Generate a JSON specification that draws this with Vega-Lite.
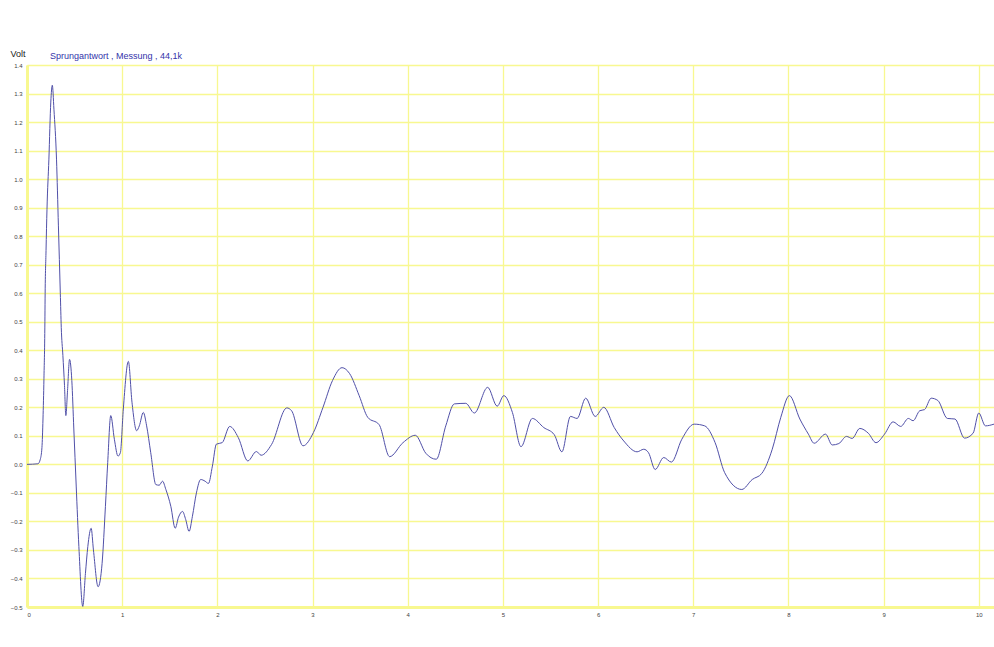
{
  "$schema": "https://vega.github.io/schema/vega-lite/v6.json",
  "autosize": "none",
  "width": 967,
  "height": 542,
  "padding": {"left": 27, "top": 65, "right": 0, "bottom": 40},
  "background": "white",
  "title": {"text": "Sprungantwort , Messung , 44,1k", "anchor": "start", "dx": 40, "offset": -12, "fontSize": 9, "fontWeight": "normal", "font": "Liberation Sans", "color": "#3333aa"},
  "config": {"view": {"stroke": null}},
  "data": {"values": [
    {"t": 0, "v": 0}, {"t": 0.115, "v": 0.002}, {"t": 0.14, "v": 0.018}, {"t": 0.157, "v": 0.059},
    {"t": 0.168, "v": 0.159}, {"t": 0.178, "v": 0.3}, {"t": 0.188, "v": 0.5}, {"t": 0.19, "v": 0.58},
    {"t": 0.2, "v": 0.75}, {"t": 0.21, "v": 0.894}, {"t": 0.23, "v": 1.07}, {"t": 0.25, "v": 1.27},
    {"t": 0.266, "v": 1.329}, {"t": 0.283, "v": 1.245}, {"t": 0.31, "v": 1.07}, {"t": 0.33, "v": 0.836},
    {"t": 0.35, "v": 0.6}, {"t": 0.36, "v": 0.48}, {"t": 0.377, "v": 0.382}, {"t": 0.394, "v": 0.276},
    {"t": 0.408, "v": 0.171}, {"t": 0.426, "v": 0.259}, {"t": 0.447, "v": 0.368}, {"t": 0.471, "v": 0.294},
    {"t": 0.492, "v": 0.124}, {"t": 0.517, "v": -0.076}, {"t": 0.545, "v": -0.288}, {"t": 0.586, "v": -0.498},
    {"t": 0.614, "v": -0.382}, {"t": 0.639, "v": -0.288}, {"t": 0.674, "v": -0.224}, {"t": 0.698, "v": -0.3},
    {"t": 0.747, "v": -0.429}, {"t": 0.789, "v": -0.347}, {"t": 0.824, "v": -0.147}, {"t": 0.848, "v": 0.006},
    {"t": 0.88, "v": 0.171}, {"t": 0.918, "v": 0.088}, {"t": 0.956, "v": 0.029}, {"t": 0.981, "v": 0.041},
    {"t": 1.012, "v": 0.194}, {"t": 1.065, "v": 0.361}, {"t": 1.103, "v": 0.218}, {"t": 1.152, "v": 0.118},
    {"t": 1.18, "v": 0.135}, {"t": 1.222, "v": 0.182}, {"t": 1.257, "v": 0.135}, {"t": 1.3, "v": 0.041},
    {"t": 1.354, "v": -0.071}, {"t": 1.389, "v": -0.073}, {"t": 1.424, "v": -0.059}, {"t": 1.459, "v": -0.088},
    {"t": 1.511, "v": -0.147}, {"t": 1.557, "v": -0.224}, {"t": 1.592, "v": -0.185}, {"t": 1.634, "v": -0.165},
    {"t": 1.668, "v": -0.194}, {"t": 1.703, "v": -0.235}, {"t": 1.738, "v": -0.182}, {"t": 1.78, "v": -0.1},
    {"t": 1.825, "v": -0.053}, {"t": 1.871, "v": -0.059}, {"t": 1.906, "v": -0.067}, {"t": 1.948, "v": -0.006},
    {"t": 1.99, "v": 0.071}, {"t": 2.05, "v": 0.076}, {"t": 2.13, "v": 0.133}, {"t": 2.22, "v": 0.094},
    {"t": 2.32, "v": 0.012}, {"t": 2.41, "v": 0.045}, {"t": 2.46, "v": 0.032}, {"t": 2.57, "v": 0.07},
    {"t": 2.73, "v": 0.198}, {"t": 2.78, "v": 0.188}, {"t": 2.9, "v": 0.065}, {"t": 3.01, "v": 0.112},
    {"t": 3.11, "v": 0.2}, {"t": 3.21, "v": 0.294}, {"t": 3.31, "v": 0.339}, {"t": 3.39, "v": 0.318},
    {"t": 3.49, "v": 0.241}, {"t": 3.58, "v": 0.165}, {"t": 3.7, "v": 0.139}, {"t": 3.81, "v": 0.027},
    {"t": 3.95, "v": 0.076}, {"t": 4.08, "v": 0.102}, {"t": 4.19, "v": 0.039}, {"t": 4.3, "v": 0.018},
    {"t": 4.4, "v": 0.135}, {"t": 4.49, "v": 0.212}, {"t": 4.61, "v": 0.214}, {"t": 4.7, "v": 0.18},
    {"t": 4.84, "v": 0.27}, {"t": 4.94, "v": 0.204}, {"t": 5.01, "v": 0.241}, {"t": 5.1, "v": 0.182},
    {"t": 5.19, "v": 0.062}, {"t": 5.31, "v": 0.161}, {"t": 5.43, "v": 0.129}, {"t": 5.54, "v": 0.104},
    {"t": 5.62, "v": 0.044}, {"t": 5.71, "v": 0.168}, {"t": 5.78, "v": 0.161}, {"t": 5.87, "v": 0.232},
    {"t": 5.97, "v": 0.168}, {"t": 6.06, "v": 0.2}, {"t": 6.17, "v": 0.129}, {"t": 6.27, "v": 0.082},
    {"t": 6.41, "v": 0.044}, {"t": 6.48, "v": 0.053}, {"t": 6.53, "v": 0.041}, {"t": 6.6, "v": -0.018},
    {"t": 6.69, "v": 0.024}, {"t": 6.77, "v": 0.008}, {"t": 6.88, "v": 0.088}, {"t": 7.01, "v": 0.141},
    {"t": 7.12, "v": 0.135}, {"t": 7.23, "v": 0.076}, {"t": 7.33, "v": -0.029}, {"t": 7.51, "v": -0.088},
    {"t": 7.62, "v": -0.053}, {"t": 7.72, "v": -0.032}, {"t": 7.83, "v": 0.053}, {"t": 7.92, "v": 0.165},
    {"t": 8.01, "v": 0.241}, {"t": 8.12, "v": 0.159}, {"t": 8.21, "v": 0.106}, {"t": 8.27, "v": 0.074},
    {"t": 8.39, "v": 0.106}, {"t": 8.46, "v": 0.068}, {"t": 8.53, "v": 0.073}, {"t": 8.61, "v": 0.098},
    {"t": 8.67, "v": 0.091}, {"t": 8.75, "v": 0.126}, {"t": 8.84, "v": 0.109}, {"t": 8.92, "v": 0.076},
    {"t": 9.01, "v": 0.106}, {"t": 9.1, "v": 0.149}, {"t": 9.18, "v": 0.133}, {"t": 9.26, "v": 0.161},
    {"t": 9.31, "v": 0.153}, {"t": 9.38, "v": 0.188}, {"t": 9.43, "v": 0.192}, {"t": 9.5, "v": 0.232},
    {"t": 9.57, "v": 0.224}, {"t": 9.67, "v": 0.161}, {"t": 9.75, "v": 0.159}, {"t": 9.85, "v": 0.092},
    {"t": 9.94, "v": 0.109}, {"t": 10.0, "v": 0.18}, {"t": 10.07, "v": 0.135}, {"t": 10.16, "v": 0.141}
  ]},
  "mark": {"type": "line", "color": "#5050a8", "strokeWidth": 1, "interpolate": "monotone"},
  "encoding": {
    "x": {"field": "t", "type": "quantitative", "scale": {"domain": [0, 10.16], "nice": false, "zero": false},
      "axis": {"values": [0,1,2,3,4,5,6,7,8,9,10], "title": null, "grid": true, "gridColor": "#f8f890", "gridWidth": 1.3,
        "domain": true, "domainColor": "#f8f890", "domainWidth": 3, "ticks": false, "labelFontSize": 6, "labelColor": "#444444",
        "labelFont": "Liberation Sans", "labelPadding": 4, "format": "d"}},
    "y": {"field": "v", "type": "quantitative", "scale": {"domain": [-0.5, 1.4], "nice": false, "zero": false},
      "axis": {"values": [-0.5,-0.4,-0.3,-0.2,-0.1,0,0.1,0.2,0.3,0.4,0.5,0.6,0.7,0.8,0.9,1.0,1.1,1.2,1.3,1.4], "format": ".1f",
        "title": "Volt", "titleAngle": 0, "titleX": -17, "titleY": -9, "titleAlign": "left", "titleBaseline": "alphabetic",
        "titleFontSize": 9, "titleFontWeight": "normal", "titleFont": "Liberation Sans", "titleColor": "#222222",
        "grid": true, "gridColor": "#f8f890", "gridWidth": 1.3, "domain": true, "domainColor": "#f8f890", "domainWidth": 3,
        "ticks": false, "labelFontSize": 6, "labelColor": "#444444", "labelFont": "Liberation Sans", "labelPadding": 5}}
  }
}
